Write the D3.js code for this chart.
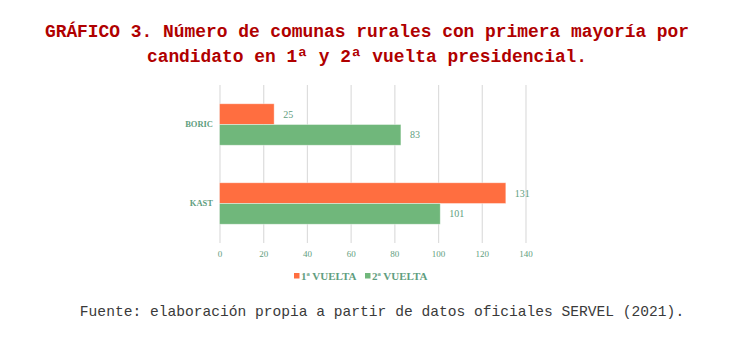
<!DOCTYPE html>
<html><head><meta charset="utf-8">
<script src="https://cdn.jsdelivr.net/npm/d3@7"></script>
<style>body{margin:0;background:#fff;}svg{display:block;}</style>
</head><body>
<script>
const categories = ["BORIC", "KAST"];
const seriesNames = ["1ª VUELTA", "2ª VUELTA"];
const vuelta1 = [25, 131];
const vuelta2 = [83, 101];
const ticks = [0, 20, 40, 60, 80, 100, 120, 140];
const colors = ["#ff6e40", "#70b77b"];
const titleLines = ["GRÁFICO 3. Número de comunas rurales con primera mayoría por", "candidato en 1ª y 2ª vuelta presidencial."];
const source = "Fuente: elaboración propia a partir de datos oficiales SERVEL (2021).";

const W = 748, H = 344;
const svg = d3.select("body").append("svg").attr("width", W).attr("height", H);

svg.selectAll("text.title").data(titleLines).join("text")
  .attr("x", 367).attr("y", (d, i) => 37 + i * 25)
  .attr("text-anchor", "middle")
  .attr("font-family", "Liberation Mono, Courier New, monospace")
  .attr("font-weight", "bold").attr("font-size", 17.9)
  .attr("fill", "#b00000").text(d => d);

svg.append("text").attr("x", 382).attr("y", 316).attr("text-anchor", "middle")
  .attr("font-family", "Liberation Mono, Courier New, monospace")
  .attr("font-size", 14.6).attr("fill", "#3a3a3a").text(source);

const x = d3.scaleLinear().domain([0, 140]).range([219.5, 525.5]);
const y = d3.scaleBand().domain(categories).range([85, 243]).paddingInner(0.475).paddingOuter(0.2375);
const y2 = d3.scaleBand().domain([0, 1]).range([0, y.bandwidth()]);
const txtCol = "#5f9e80";
const serif = "Liberation Serif, DejaVu Serif, serif";

const gx = svg.append("g").attr("transform", "translate(0,243)")
  .call(d3.axisBottom(x).tickValues(ticks).tickSize(-158).tickPadding(8));
gx.select(".domain").remove();
gx.selectAll(".tick line").attr("stroke", "#dddddd").attr("stroke-width", 1.2);
gx.selectAll(".tick text").attr("fill", txtCol).attr("font-family", serif).attr("font-size", 9);

const gy = svg.append("g").attr("transform", "translate(213,0)")
  .call(d3.axisLeft(y).tickSize(0).tickPadding(0));
gy.select(".domain").remove();
gy.selectAll(".tick text").attr("fill", txtCol).attr("font-family", serif)
  .attr("font-weight", "bold").attr("font-size", 8.5);

const series = [vuelta1, vuelta2];
series.forEach((vals, si) => {
  const g = svg.append("g");
  g.selectAll("rect").data(categories).join("rect")
    .attr("x", x(0)).attr("y", c => y(c) + y2(si))
    .attr("width", (c, i) => x(vals[i]) - x(0)).attr("height", y2.bandwidth())
    .attr("fill", colors[si]).attr("stroke", "#ffffff").attr("stroke-opacity", 0.5).attr("stroke-width", 0.8);
  g.selectAll("text").data(categories).join("text")
    .attr("x", (c, i) => x(vals[i]) + 9).attr("y", c => y(c) + y2(si) + y2.bandwidth() / 2)
    .attr("dy", "0.35em").attr("fill", txtCol).attr("font-family", serif).attr("font-size", 10)
    .text((c, i) => vals[i]);
});

const leg = svg.append("g").attr("transform", "translate(0,276)");
const legX = [294, 365];
seriesNames.forEach((n, i) => {
  leg.append("rect").attr("x", legX[i]).attr("y", -3).attr("width", 5.5).attr("height", 5.5).attr("fill", colors[i]);
  leg.append("text").attr("x", legX[i] + 7).attr("y", 0).attr("dy", "0.35em")
    .attr("fill", txtCol).attr("font-family", serif).attr("font-weight", "bold").attr("font-size", 11).text(n);
});
</script>
</body></html>
